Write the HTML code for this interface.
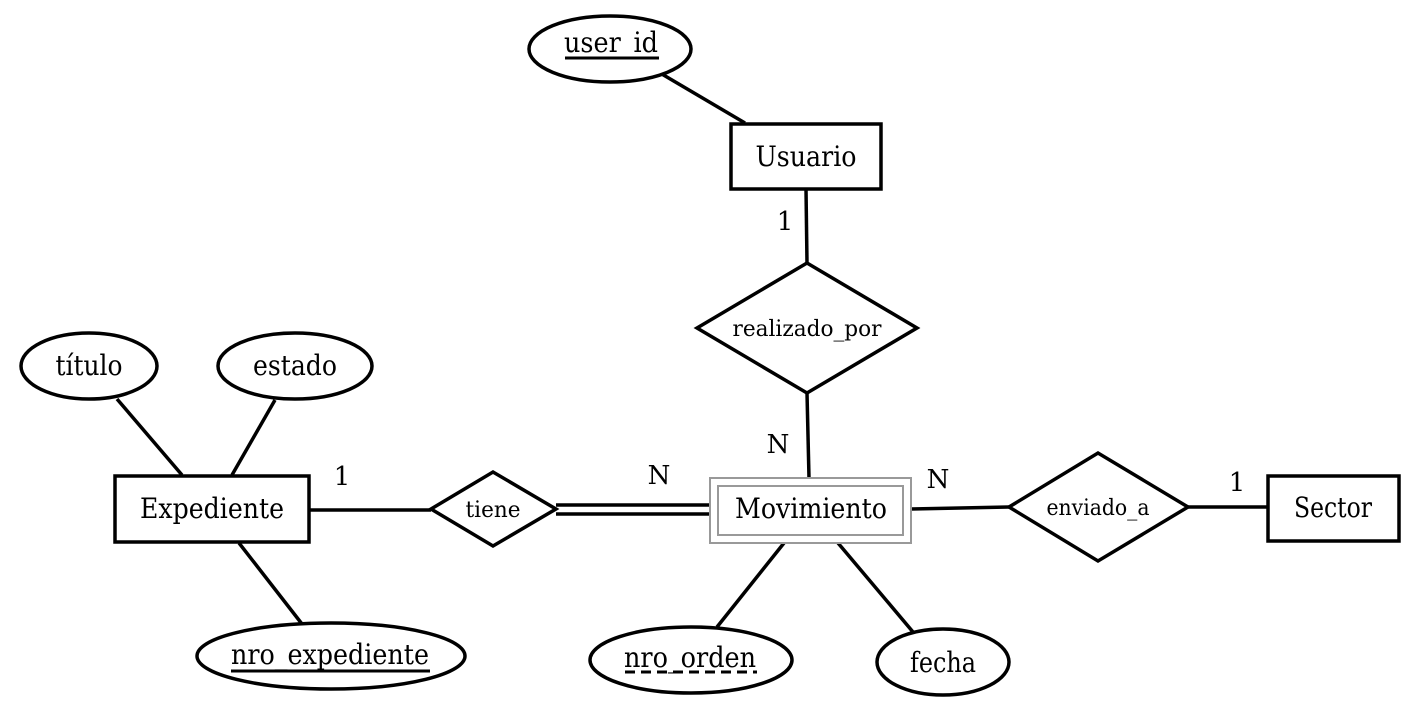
<!DOCTYPE html>
<html><head><meta charset="utf-8"><style>html,body{margin:0;padding:0;background:#fff}svg{display:block}</style></head>
<body>
<svg width="1419" height="702" viewBox="0 0 1419 702" xmlns="http://www.w3.org/2000/svg" font-family="'DejaVu Serif','Liberation Serif',serif" fill="none" stroke="#000" stroke-width="3.5">
<line x1="655" y1="70" x2="745" y2="123"/>
<line x1="806" y1="189" x2="807" y2="263"/>
<line x1="807" y1="393" x2="809" y2="478"/>
<line x1="310" y1="510" x2="431" y2="510"/>
<line x1="556" y1="505" x2="709" y2="505"/>
<line x1="556" y1="514" x2="709" y2="514"/>
<line x1="117" y1="399" x2="182" y2="475"/>
<line x1="275" y1="400" x2="232" y2="475"/>
<line x1="239" y1="543" x2="302" y2="624"/>
<line x1="784" y1="543" x2="717" y2="627"/>
<line x1="838" y1="543" x2="913" y2="632"/>
<line x1="911" y1="509" x2="1009" y2="507"/>
<line x1="1188" y1="507" x2="1267" y2="507"/>
<ellipse cx="610" cy="49" rx="81" ry="33" fill="#fff"/>
<rect x="731" y="124" width="150" height="65" fill="#fff"/>
<polygon points="807,263 917,328 807,393 697,328" fill="#fff"/>
<rect x="710" y="478" width="201" height="65" fill="#fff" stroke="#999" stroke-width="2"/>
<rect x="718" y="486" width="185" height="49" fill="#fff" stroke="#999" stroke-width="2"/>
<polygon points="431,509 493,472 556,509 493,546" fill="#fff"/>
<rect x="115" y="476" width="194" height="66" fill="#fff"/>
<ellipse cx="89" cy="366" rx="68" ry="33" fill="#fff"/>
<ellipse cx="295" cy="366" rx="77" ry="33" fill="#fff"/>
<ellipse cx="331" cy="656" rx="134" ry="33" fill="#fff"/>
<ellipse cx="691" cy="660" rx="101" ry="33" fill="#fff"/>
<ellipse cx="943" cy="662" rx="66" ry="33" fill="#fff"/>
<polygon points="1009,507 1098,453 1188,507 1098,561" fill="#fff"/>
<rect x="1268" y="476" width="131" height="65" fill="#fff"/>
<line x1="565" y1="58" x2="659" y2="58" stroke-width="3"/>
<line x1="231" y1="671" x2="430" y2="671" stroke-width="3"/>
<line x1="625" y1="672" x2="757" y2="672" stroke-width="3" stroke-dasharray="10,6"/>
<g fill="#000" stroke="none" font-size="28" text-anchor="middle">
<text x="611" y="52" textLength="94" lengthAdjust="spacingAndGlyphs">user_id</text>
<text x="806" y="166" textLength="101" lengthAdjust="spacingAndGlyphs">Usuario</text>
<text x="811" y="518" textLength="152" lengthAdjust="spacingAndGlyphs">Movimiento</text>
<text x="212" y="518" textLength="144" lengthAdjust="spacingAndGlyphs">Expediente</text>
<text x="89" y="375" textLength="67" lengthAdjust="spacingAndGlyphs">título</text>
<text x="295" y="375" textLength="84" lengthAdjust="spacingAndGlyphs">estado</text>
<text x="330" y="664" textLength="198" lengthAdjust="spacingAndGlyphs">nro_expediente</text>
<text x="690" y="667" textLength="132" lengthAdjust="spacingAndGlyphs">nro_orden</text>
<text x="943" y="672" textLength="66" lengthAdjust="spacingAndGlyphs">fecha</text>
<text x="1333" y="517" textLength="78" lengthAdjust="spacingAndGlyphs">Sector</text>
<g font-size="26">
<text x="785" y="230">1</text>
<text x="778" y="453">N</text>
<text x="342" y="485">1</text>
<text x="659" y="484">N</text>
<text x="938" y="488">N</text>
<text x="1237" y="491">1</text>
</g>
<g font-size="22">
<text x="807" y="336" textLength="149" lengthAdjust="spacingAndGlyphs">realizado_por</text>
<text x="493" y="517" textLength="55" lengthAdjust="spacingAndGlyphs">tiene</text>
<text x="1098" y="515" textLength="103" lengthAdjust="spacingAndGlyphs">enviado_a</text>
</g>
</g>
</svg>
</body></html>
